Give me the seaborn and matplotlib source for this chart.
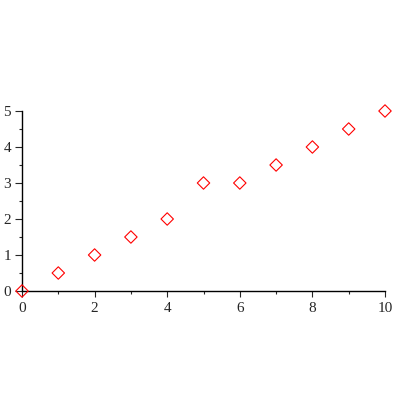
"""Diamond scatter, Maple-like plot style."""

import matplotlib
matplotlib.use("Agg")
import matplotlib.pyplot as plt
from matplotlib.ticker import MultipleLocator
import pandas as pd
import seaborn as sns

# Datos
x_vals = [0, 1, 2, 3, 4, 5, 6, 7, 8, 9, 10]
y_vals = [0, 0.5, 1, 1.5, 2, 3, 3, 3.5, 4, 4.5, 5]
x_ticks = [0, 2, 4, 6, 8, 10]
y_ticks = [0, 1, 2, 3, 4, 5]

df = pd.DataFrame({"x": x_vals, "y": y_vals})

sns.set_style("ticks")
plt.rcParams["font.family"] = ["Liberation Serif", "DejaVu Serif"]

fig = plt.figure(figsize=(4, 4), dpi=100)
ax = fig.add_axes([0.055, 0.2725, 0.9075, 0.45])

sns.scatterplot(
    data=df, x="x", y="y", marker="D", s=40,
    facecolor="none", edgecolor="red", linewidth=0.8,
    clip_on=False, ax=ax, zorder=3,
)

ax.set_xlim(0, 10)
ax.set_ylim(0, 5)
ax.set_xticks(x_ticks)
ax.set_yticks(y_ticks)
ax.xaxis.set_minor_locator(MultipleLocator(1))
ax.yaxis.set_minor_locator(MultipleLocator(0.5))
ax.tick_params(axis="x", which="major", length=4, width=0.8, labelsize=11, pad=4)
ax.tick_params(axis="y", which="major", length=5, width=0.8, labelsize=11, pad=3)
ax.tick_params(which="minor", length=2.5, width=0.8)
ax.set_xlabel("")
ax.set_ylabel("")

for side in ["top", "right"]:
    ax.spines[side].set_visible(False)
for side in ["left", "bottom"]:
    ax.spines[side].set_linewidth(1.0)
    ax.spines[side].set_color("black")

fig.savefig("out.png", dpi=100)
